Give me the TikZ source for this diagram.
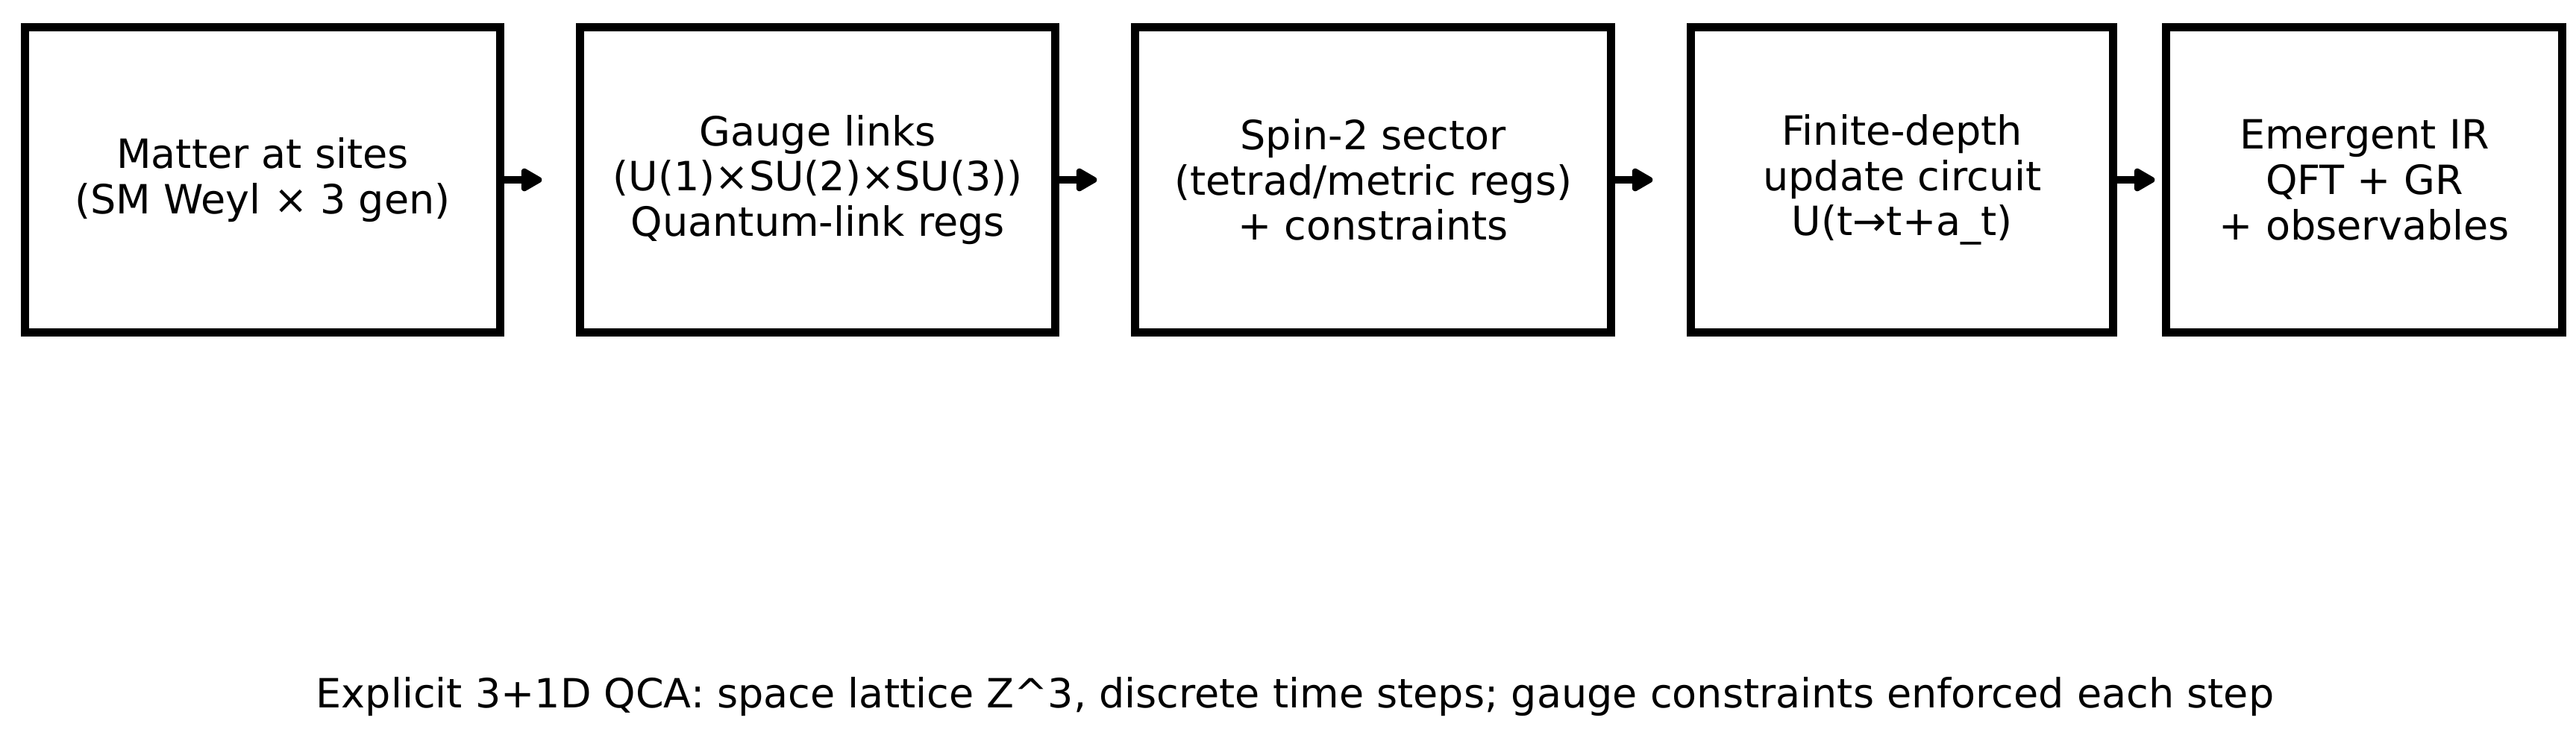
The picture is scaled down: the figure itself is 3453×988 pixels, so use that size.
\documentclass[tikz,border=0pt]{standalone}
\usepackage{fontspec}
\setmainfont{DejaVu Sans}
\usetikzlibrary{arrows.meta,positioning}

\tikzset{
    block/.style={draw, line width=2.75pt, minimum height=102.25pt, align=center, inner sep=0pt},
    flow/.style={-{Triangle[length=8pt, width=8.5pt, round]}, line width=2.5pt}
}

\begin{document}
\begin{tikzpicture}[x=0.25pt, y=-0.25pt, node distance=24pt, font=\fontsize{13.5pt}{15.2pt}\selectfont]
    \useasboundingbox (0,0) rectangle (3453,988);

    % Nodes {matter, gauge, spin, update, ir}
    \node [block, minimum width=159.4pt]                    (matter) at (352,241) {Matter at sites\\(SM Weyl × 3 gen)};
    \node [block, minimum width=159.25pt] [right=of matter] (gauge)  {Gauge links\\(U(1)×SU(2)×SU(3))\\Quantum-link regs};
    \node [block, minimum width=159.5pt]  [right=of gauge]  (spin)   {Spin-2 sector\\(tetrad/metric regs)\\+ constraints};
    \node [block, minimum width=141.5pt]  [right=of spin]   (update) {Finite-depth\\update circuit\\U(t→t+a\_t)};
    \node [block, minimum width=132.75pt] [right=15pt of update] (ir) {Emergent IR\\QFT + GR\\+ observables};

    \node [anchor=base] (caption) at (1736,948) {Explicit 3+1D QCA: space lattice Z\textasciicircum3, discrete time steps; gauge constraints enforced each step};

    % Arrow ends
    \coordinate [right=12.5pt of matter.east] (t1);
    \coordinate [right=12.5pt of gauge.east]  (t2);
    \coordinate [right=12.5pt of spin.east]   (t3);
    \coordinate [right=12.5pt of update.east] (t4);

    % Paths
    \draw [flow] (matter.east) -- (t1);
    \draw [flow] (gauge.east)  -- (t2);
    \draw [flow] (spin.east)   -- (t3);
    \draw [flow] (update.east) -- (t4);
\end{tikzpicture}
\end{document}
